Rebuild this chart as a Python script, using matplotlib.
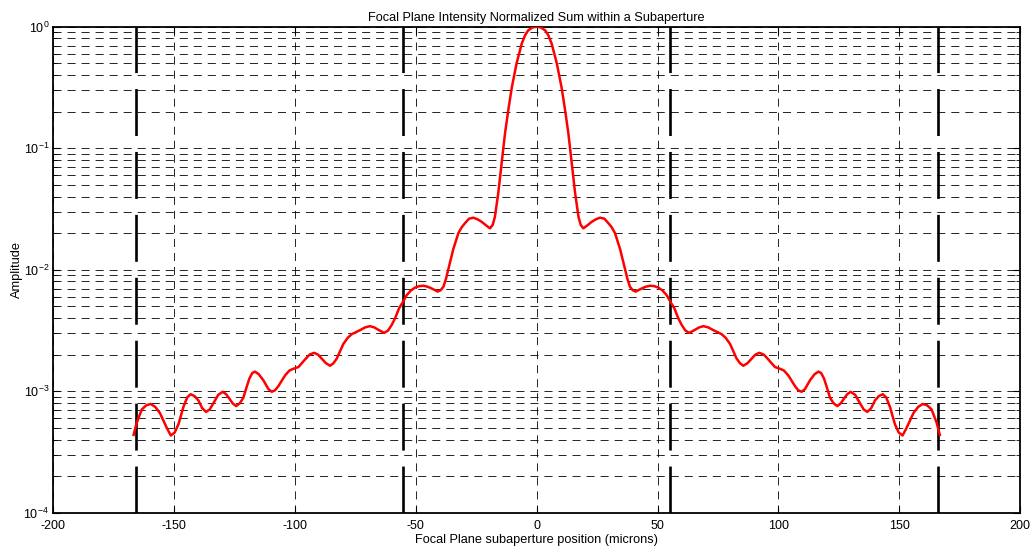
import matplotlib
matplotlib.use('Agg')
import matplotlib.pyplot as plt
from matplotlib.ticker import LogLocator, NullFormatter

plt.rcParams['font.family'] = ['Liberation Sans', 'DejaVu Sans']
plt.rcParams['mathtext.fontset'] = 'custom'
plt.rcParams['mathtext.rm'] = 'Liberation Sans'
plt.rcParams['axes.unicode_minus'] = False
plt.rcParams['lines.scale_dashes'] = False

# focal plane position (microns) and normalized summed intensity
pos_left = [-166.8, -165.5, -163.4, -161.5, -159.7, -157.8, -155.9, -153.1, -151.4, -149.8,
            -148.2, -146.2, -144.6, -143.2, -141.6, -140.0, -138.4, -136.8, -135.3, -133.8,
            -131.8, -129.9, -128.5, -127.2, -125.8, -124.4, -122.9, -121.4, -120.1, -118.9,
            -117.7, -116.6, -115.0, -113.1, -111.0, -109.6, -108.2, -106.9, -104.1, -102.3,
            -100.7, -98.6, -97.2, -95.9, -94.0, -92.1, -90.5, -89.0, -87.2, -85.5,
            -84.1, -82.7, -80.0, -78.2, -76.5, -73.1, -71.0, -69.0, -67.2, -65.5,
            -63.1, -61.5, -60.0, -58.6, -57.0, -55.5, -53.8, -52.0, -50.4, -48.6,
            -46.9, -45.1, -43.4, -41.0, -39.8, -38.6, -37.6, -36.6, -34.5, -32.4,
            -31.0, -29.7, -28.0, -26.2, -24.5, -22.8, -21.0, -19.3, -18.2, -17.3,
            -15.9, -14.5, -13.1, -11.7, -10.3, -8.3, -6.2, -4.8, -3.5, -1.8, 0.0]
amp_left = [0.000437, 0.000550, 0.000708, 0.000767, 0.000785, 0.000741, 0.000661, 0.000501, 0.000432, 0.000457,
            0.000537, 0.000741, 0.000891, 0.000944, 0.000912, 0.000841, 0.000724, 0.000676, 0.000708, 0.000794,
            0.000933, 0.000989, 0.000944, 0.000871, 0.000794, 0.000755, 0.000794, 0.000881, 0.00107, 0.00127,
            0.00141, 0.00145, 0.00138, 0.00123, 0.00104, 0.000989, 0.00102, 0.00110, 0.00135, 0.00148,
            0.00153, 0.00158, 0.00170, 0.00182, 0.00200, 0.00207, 0.00200, 0.00186, 0.00170, 0.00162,
            0.00170, 0.00186, 0.00245, 0.00275, 0.00295, 0.00318, 0.00335, 0.00343, 0.00335, 0.00320,
            0.00302, 0.00316, 0.00351, 0.00398, 0.00479, 0.00537, 0.00617, 0.00676, 0.00711, 0.00733,
            0.00738, 0.00724, 0.00700, 0.00661, 0.00676, 0.00724, 0.00832, 0.0100, 0.0148, 0.0200,
            0.0224, 0.0241, 0.0263, 0.0268, 0.0260, 0.0248, 0.0232, 0.0219, 0.0234, 0.0272,
            0.0427, 0.0750, 0.133, 0.209, 0.316, 0.501, 0.724, 0.851, 0.933, 0.984, 1.0]
pos_right = [1.8, 3.5, 4.8, 6.2, 8.3, 10.3, 11.7, 13.1, 14.5, 15.9,
             17.3, 18.2, 19.3, 21.0, 22.8, 24.5, 26.2, 28.0, 29.7, 31.0,
             32.4, 34.5, 36.6, 37.6, 38.6, 39.8, 41.0, 43.4, 45.1, 46.9,
             48.6, 50.4, 52.0, 53.8, 55.5, 57.0, 58.6, 60.0, 61.5, 63.1,
             65.5, 67.2, 69.0, 71.0, 73.1, 76.5, 78.2, 80.0, 82.7, 84.1,
             85.5, 87.2, 89.0, 90.5, 92.1, 94.0, 95.9, 97.2, 98.6, 100.7,
             102.3, 104.1, 106.9, 108.2, 109.6, 111.0, 113.1, 115.0, 116.6, 117.7,
             118.9, 120.1, 121.4, 122.9, 124.4, 125.8, 127.2, 128.5, 129.9, 131.8,
             133.8, 135.3, 136.8, 138.4, 140.0, 141.6, 143.2, 144.6, 146.2, 148.2,
             149.8, 151.4, 153.1, 155.9, 157.8, 159.7, 161.5, 163.4, 165.5, 166.8]
amp_right = [0.984, 0.933, 0.851, 0.724, 0.501, 0.316, 0.209, 0.133, 0.0750, 0.0427,
             0.0272, 0.0234, 0.0219, 0.0232, 0.0248, 0.0260, 0.0268, 0.0263, 0.0241, 0.0224,
             0.0200, 0.0148, 0.0100, 0.00832, 0.00724, 0.00676, 0.00661, 0.00700, 0.00724, 0.00738,
             0.00733, 0.00711, 0.00676, 0.00617, 0.00537, 0.00479, 0.00398, 0.00351, 0.00316, 0.00302,
             0.00320, 0.00335, 0.00343, 0.00335, 0.00318, 0.00295, 0.00275, 0.00245, 0.00186, 0.00170,
             0.00162, 0.00170, 0.00186, 0.00200, 0.00207, 0.00200, 0.00182, 0.00170, 0.00158, 0.00153,
             0.00148, 0.00135, 0.00110, 0.00102, 0.000989, 0.00104, 0.00123, 0.00138, 0.00145, 0.00141,
             0.00127, 0.00107, 0.000881, 0.000794, 0.000755, 0.000794, 0.000871, 0.000944, 0.000989, 0.000933,
             0.000794, 0.000708, 0.000676, 0.000724, 0.000841, 0.000912, 0.000944, 0.000891, 0.000741, 0.000537,
             0.000457, 0.000432, 0.000501, 0.000661, 0.000741, 0.000785, 0.000767, 0.000708, 0.000550, 0.000437]

# subaperture boundaries (microns)
edges = [-166.0, -55.3, 55.3, 166.0]

x_ticks = [-200, -150, -100, -50, 0, 50, 100, 150, 200]
x_lim = (-200, 200)
y_lim = (1e-4, 1e0)

fig = plt.figure(figsize=(10.32, 5.48), dpi=100)
ax = fig.add_axes([0.0517, 0.0644, 0.9367, 0.8869])

ax.set_yscale('log')
ax.set_xlim(*x_lim)
ax.set_ylim(*y_lim)
ax.set_xticks(x_ticks)
ax.yaxis.set_major_locator(LogLocator(base=10, numticks=10))
ax.yaxis.set_minor_locator(LogLocator(base=10, subs=range(2, 10), numticks=20))
ax.yaxis.set_minor_formatter(NullFormatter())

grid_dash = (0, (5.8, 4.3))
ax.grid(True, which='major', axis='both', color='black', linewidth=0.6, linestyle=grid_dash)
ax.grid(True, which='minor', axis='y', color='black', linewidth=0.6, linestyle=grid_dash)
ax.set_axisbelow(True)

for xe in edges:
    ax.plot([xe, xe], [y_lim[0], y_lim[1]], color='black', linewidth=1.9,
            linestyle=(0, (33.8, 11.5)), zorder=2)

ax.plot(pos_left + pos_right, amp_left + amp_right, color='red', linewidth=1.8,
        solid_joinstyle='round', zorder=3)

for side in ax.spines.values():
    side.set_linewidth(1.3)
    side.set_color('black')
ax.tick_params(which='both', direction='in', top=True, right=True, labelsize=9, colors='black')
ax.tick_params(which='major', length=5, width=0.8)
ax.tick_params(which='minor', length=3, width=0.6)
ax.tick_params(axis='x', pad=5)
ax.tick_params(axis='y', pad=3)

ax.set_title('Focal Plane Intensity Normalized Sum within a Subaperture', fontsize=9.2, pad=4)
ax.set_xlabel('Focal Plane subaperture position (microns)', fontsize=9.2, labelpad=2)
ax.set_ylabel('Amplitude', fontsize=9.2, labelpad=0)

fig.savefig('out.png', dpi=100)
